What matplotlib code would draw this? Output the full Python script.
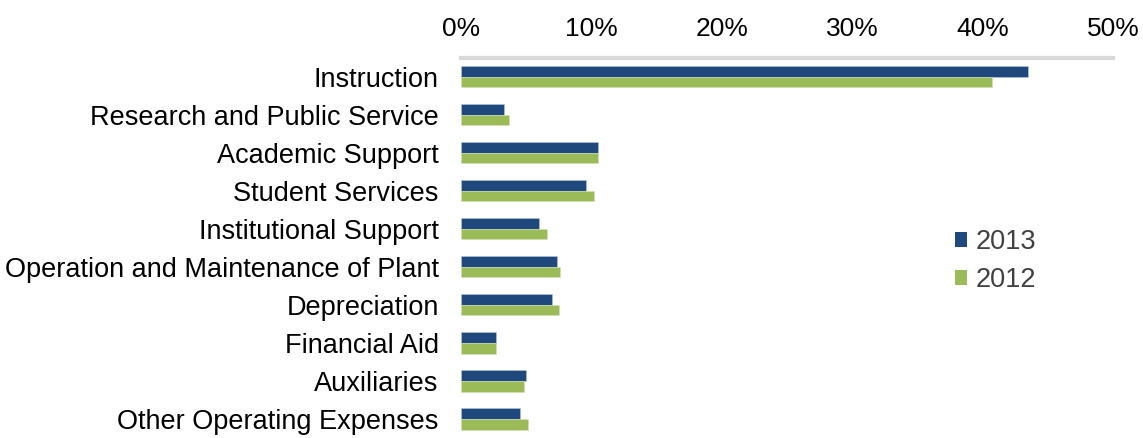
import matplotlib
matplotlib.use("Agg")
import matplotlib.pyplot as plt
from matplotlib.patches import Patch
import numpy as np

plt.rcParams['font.family'] = ['Liberation Sans', 'DejaVu Sans']

categories = ["Instruction", "Research and Public Service", "Academic Support",
              "Student Services", "Institutional Support",
              "Operation and Maintenance of Plant", "Depreciation",
              "Financial Aid", "Auxiliaries", "Other Operating Expenses"]
values_2013 = [43.5, 3.3, 10.5, 9.6, 6.0, 7.4, 7.0, 2.7, 5.0, 4.5]
values_2012 = [40.7, 3.7, 10.5, 10.2, 6.6, 7.6, 7.5, 2.7, 4.8, 5.1]
xticks = [0, 10, 20, 30, 40, 50]
xtick_labels = ["0%", "10%", "20%", "30%", "40%", "50%"]

c2013 = "#1F497D"
c2012 = "#9BBB59"

fig = plt.figure(figsize=(11.43, 4.38), dpi=100)
ax = fig.add_axes([461/1143, 0.0, (1113-461)/1143, 1 - 57.5/438])

y = np.arange(len(categories))
h = 0.28
ax.barh(y - h/2, values_2013, height=h, color=c2013, edgecolor="#B8C8DC", linewidth=0.4)
ax.barh(y + h/2, values_2012, height=h, color=c2012, edgecolor="#D4E3B8", linewidth=0.4)

ax.set_xlim(0, 50)
ax.set_ylim(len(categories) - 0.5, -0.5)
ax.set_yticks(y)
ax.set_yticklabels(categories, fontsize=19.5, color="#000000")
ax.set_xticks(xticks)
ax.set_xticklabels(xtick_labels, fontsize=19, color="#000000")
ax.xaxis.tick_top()
ax.tick_params(axis='x', length=0, pad=12)
ax.tick_params(axis='y', length=0, pad=16)
for s in ["right", "bottom", "left"]:
    ax.spines[s].set_visible(False)
ax.spines["top"].set_color("#D9D9D9")
ax.spines["top"].set_linewidth(3)

handles = [Patch(facecolor=c2013, label="2013"), Patch(facecolor=c2012, label="2012")]
leg = ax.legend(handles=handles, loc="upper left", bbox_to_anchor=(0.758, 0.549),
                frameon=False, fontsize=19.5, handlelength=0.45, handleheight=0.45,
                handletextpad=0.3, labelspacing=0.45, borderaxespad=0, borderpad=0)
for t in leg.get_texts():
    t.set_color("#404040")

fig.savefig("out.png", dpi=100)
